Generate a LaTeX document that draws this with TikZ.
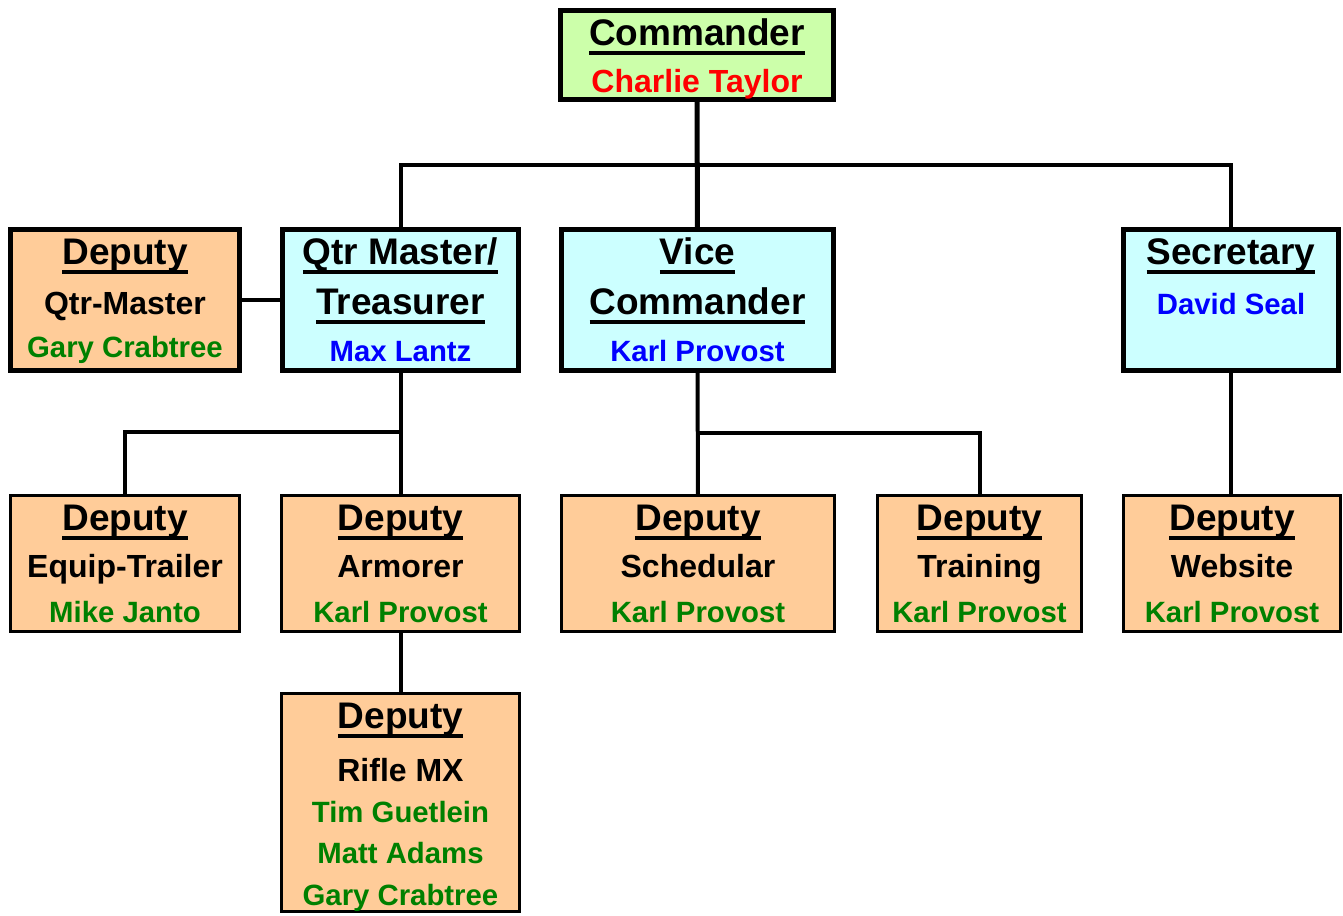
\documentclass[tikz,border=0pt]{standalone}
\usepackage{fontspec}
\setmainfont{Liberation Sans}
\usetikzlibrary{calc}
\definecolor{cmdCol}{HTML}{CCFFAA}
\definecolor{officerCol}{HTML}{CCFFFF}
\definecolor{deputyCol}{HTML}{FFCC99}
\definecolor{cmdName}{HTML}{FF0000}
\definecolor{officerName}{HTML}{0000FF}
\definecolor{deputyName}{HTML}{008000}
\newlength{\px}\setlength{\px}{0.75pt}
% underlined title line
\newcommand{\hdtext}[1]{\leavevmode{\fontsize{27.75pt}{31pt}\selectfont\setbox0\hbox{#1}\rlap{\rule[-7.5pt]{\wd0}{3pt}}\box0}}
\newcommand{\roletext}[1]{{\fontsize{24pt}{31pt}\selectfont #1}}
\newcommand{\nametext}[2]{{\color{#1}#2}}
% width, height (px), lines
\newcommand{\cardtext}[3]{\parbox[c][#2\px][t]{#1\px}{\centering\fontsize{22pt}{31pt}\selectfont\bfseries\rule{0pt}{26pt}#3}}
\tikzstyle{card}=[draw=black, inner sep=0pt, outer sep=0pt]
\tikzstyle{commander}=[card, line width=3.75pt, fill=cmdCol]
\tikzstyle{officer}=[card, line width=3.75pt, fill=officerCol]
\tikzstyle{deputytop}=[card, line width=3.75pt, fill=deputyCol]
\tikzstyle{deputy}=[card, line width=2.25pt, fill=deputyCol]
\tikzstyle{connection}=[line width=3pt, draw=black]

\begin{document}
\begin{tikzpicture}[x=0.75pt, y=-0.75pt]
    \useasboundingbox (0,0) rectangle (1343,915);

    % === COMMANDER ===
    \node[commander] (cmd) at (697,55)
        {\cardtext{273}{89}{\hdtext{Commander}\\[4.25pt]\roletext{\nametext{cmdName}{Charlie Taylor}}}};

    % === OFFICERS ===
    \node[deputytop] (dqm) at (125,300)
        {\cardtext{229}{141}{\hdtext{Deputy}\\[6.5pt]\roletext{Qtr-Master}\\[1.25pt]\nametext{deputyName}{Gary Crabtree}}};
    \node[officer] (qtr) at (400.5,300)
        {\cardtext{236}{141}{\hdtext{Qtr Master/}\\[6.5pt]\hdtext{Treasurer}\\[4.25pt]\nametext{officerName}{Max Lantz}}};
    \node[officer] (vice) at (697.5,300)
        {\cardtext{272}{141}{\hdtext{Vice}\\[6.5pt]\hdtext{Commander}\\[4.25pt]\nametext{officerName}{Karl Provost}}};
    \node[officer] (sec) at (1231,300)
        {\cardtext{215}{141}{\hdtext{Secretary}\\[6.5pt]\nametext{officerName}{David Seal}}};

    % === DEPUTIES ===
    \node[deputy] (equip) at (125,563.5)
        {\cardtext{229}{136}{\hdtext{Deputy}\\[4.25pt]\roletext{Equip-Trailer}\\[2.75pt]\nametext{deputyName}{Mike Janto}}};
    \node[deputy] (arm) at (400.5,563.5)
        {\cardtext{238}{136}{\hdtext{Deputy}\\[4.25pt]\roletext{Armorer}\\[2.75pt]\nametext{deputyName}{Karl Provost}}};
    \node[deputy] (sched) at (698,563.5)
        {\cardtext{273}{136}{\hdtext{Deputy}\\[4.25pt]\roletext{Schedular}\\[2.75pt]\nametext{deputyName}{Karl Provost}}};
    \node[deputy] (train) at (979.5,563.5)
        {\cardtext{204}{136}{\hdtext{Deputy}\\[4.25pt]\roletext{Training}\\[2.75pt]\nametext{deputyName}{Karl Provost}}};
    \node[deputy] (web) at (1232,563.5)
        {\cardtext{217}{136}{\hdtext{Deputy}\\[4.25pt]\roletext{Website}\\[2.75pt]\nametext{deputyName}{Karl Provost}}};
    \node[deputy] (rifle) at (400.5,802.5)
        {\cardtext{238}{218}{\hdtext{Deputy}\\[8.75pt]\roletext{Rifle MX}\\\nametext{deputyName}{Tim Guetlein}\\\nametext{deputyName}{Matt Adams}\\\nametext{deputyName}{Gary Crabtree}}};

    % ==== CONNECTIONS ====
    \coordinate (bus) at (0,165);
    \coordinate (qbus) at (0,432);
    \coordinate (vbus) at (0,433);

    % Commander -> officers
    \draw[connection, line width=3.75pt] (cmd.south) -- (vice.north);
    \draw[connection] (qtr.north) -- (qtr.north |- bus) -| (sec.north);

    % Qtr Master -> deputy
    \draw[connection] (dqm.east) -- (qtr.west);

    % Qtr Master -> Equip-Trailer, Armorer
    \draw[connection] (qtr.south) -- (arm.north);
    \draw[connection] (qtr.south |- qbus) -| (equip.north);

    % Vice -> Schedular, Training
    \draw[connection] (vice.south) -- (sched.north);
    \draw[connection] (vice.south |- vbus) -| (train.north);

    % Secretary -> Website
    \draw[connection] (sec.south) -- (sec.south |- web.north);

    % Armorer -> Rifle MX
    \draw[connection] (arm.south) -- (rifle.north);

\end{tikzpicture}
\end{document}
